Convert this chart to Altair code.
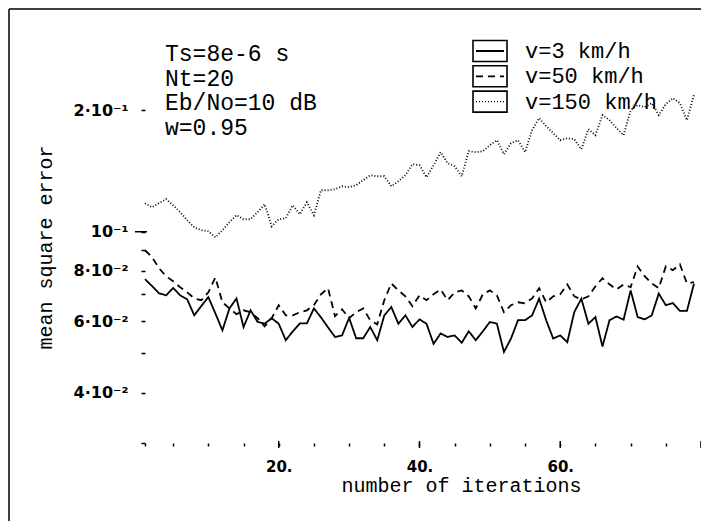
import altair as alt
import pandas as pd

# ---- data ----
iterations = list(range(1, 80))

mse_v3 = [0.0763, 0.0734, 0.0704, 0.0696, 0.0726, 0.0696, 0.0680, 0.0621, 0.0655, 0.0689,
          0.0628, 0.0570, 0.0646, 0.0684, 0.0581, 0.0639, 0.0598, 0.0592, 0.0611, 0.0592,
          0.0539, 0.0567, 0.0593, 0.0593, 0.0646, 0.0614, 0.0580, 0.0549, 0.0554, 0.0612,
          0.0545, 0.0545, 0.0581, 0.0539, 0.0621, 0.0651, 0.0592, 0.0621, 0.0581, 0.0607,
          0.0592, 0.0528, 0.0560, 0.0549, 0.0554, 0.0531, 0.0567, 0.0539, 0.0567, 0.0598,
          0.0592, 0.0504, 0.0544, 0.0604, 0.0604, 0.0621, 0.0683, 0.0604, 0.0544, 0.0554,
          0.0533, 0.0633, 0.0683, 0.0592, 0.0615, 0.0520, 0.0604, 0.0617, 0.0606, 0.0716,
          0.0615, 0.0607, 0.0621, 0.0703, 0.0658, 0.0666, 0.0637, 0.0637, 0.0744]

mse_v50 = [0.0900, 0.0865, 0.0812, 0.0776, 0.0754, 0.0729, 0.0708, 0.0684, 0.0677, 0.0708,
           0.0771, 0.0669, 0.0646, 0.0625, 0.0639, 0.0632, 0.0611, 0.0583, 0.0611, 0.0658,
           0.0621, 0.0621, 0.0632, 0.0639, 0.0658, 0.0700, 0.0725, 0.0618, 0.0643, 0.0611,
           0.0632, 0.0646, 0.0604, 0.0590, 0.0677, 0.0745, 0.0716, 0.0692, 0.0654, 0.0696,
           0.0677, 0.0700, 0.0720, 0.0677, 0.0708, 0.0716, 0.0692, 0.0646, 0.0700, 0.0716,
           0.0696, 0.0632, 0.0658, 0.0669, 0.0665, 0.0684, 0.0725, 0.0669, 0.0692, 0.0700,
           0.0741, 0.0692, 0.0680, 0.0692, 0.0733, 0.0767, 0.0741, 0.0720, 0.0741, 0.0729,
           0.0821, 0.0776, 0.0745, 0.0725, 0.0821, 0.0803, 0.0831, 0.0745, 0.0750]

mse_v150 = [0.1177, 0.1150, 0.1177, 0.1204, 0.1163, 0.1118, 0.1068, 0.1026, 0.1009, 0.1003,
            0.0969, 0.1009, 0.1056, 0.1099, 0.1074, 0.1074, 0.1118, 0.1170, 0.1032, 0.1074,
            0.1080, 0.1163, 0.1105, 0.1183, 0.1099, 0.1267, 0.1267, 0.1274, 0.1296, 0.1289,
            0.1304, 0.1342, 0.1380, 0.1372, 0.1372, 0.1296, 0.1334, 0.1380, 0.1470, 0.1461,
            0.1364, 0.1461, 0.1574, 0.1478, 0.1452, 0.1372, 0.1583, 0.1574, 0.1583, 0.1638,
            0.1685, 0.1556, 0.1657, 0.1685, 0.1574, 0.1784, 0.1911, 0.1826, 0.1754, 0.1685,
            0.1705, 0.1695, 0.1601, 0.1795, 0.1734, 0.1944, 0.1889, 0.1805, 0.1734, 0.2000,
            0.2058, 0.2035, 0.2082, 0.1944, 0.2070, 0.2142, 0.2082, 0.1889, 0.2179]

series_names = ["v=3 km/h", "v=50 km/h", "v=150 km/h"]
notes = ["Ts=8e-6 s", "Nt=20", "Eb/No=10 dB", "w=0.95"]

x_ticks = [1, 5, 10, 15, 20, 25, 30, 35, 40, 45, 50, 55, 60, 65, 70, 75, 80]
x_major = [20, 40, 60, 80]
x_tick_labels = {20: "20.", 40: "40.", 60: "60."}

y_ticks = [0.03, 0.04, 0.05, 0.06, 0.07, 0.08, 0.09, 0.1, 0.2]
y_tick_labels = {0.04: "4·10⁻²", 0.06: "6·10⁻²", 0.08: "8·10⁻²", 0.1: "10⁻¹", 0.2: "2·10⁻¹"}

# ---- styles ----
dashes = [[1, 0], [7, 5], [1, 2]]
widths = [1.8, 1.8, 1.3]
TITLE_FONT = "Liberation Mono"
LABEL_FONT = "DejaVu Sans"

df = pd.DataFrame({
    "iteration": iterations * 3,
    "mse": mse_v3 + mse_v50 + mse_v150,
    "series": [series_names[0]] * len(iterations)
              + [series_names[1]] * len(iterations)
              + [series_names[2]] * len(iterations),
})

x_expr = " : ".join(f"datum.value == {k} ? '{v}'" for k, v in x_tick_labels.items()) + " : ''"
y_expr = " : ".join(f"abs(datum.value - {k}) < 1e-9 ? '{v}'" for k, v in y_tick_labels.items()) + " : ''"

W, H = 556, 404

x_scale = alt.Scale(domain=[1, 80], nice=False, zero=False)
y_scale = alt.Scale(type="log", domain=[0.03, 0.3], nice=False)

x_axis = alt.Axis(values=x_ticks, labelExpr=x_expr, title="number of iterations",
                  domain=False, grid=False, tickSize=3, tickWidth=1.5,
                  tickColor="black", labelPadding=13,
                  labelFont=LABEL_FONT, labelFontSize=15, labelFontWeight="bold",
                  labelColor="black", labelFlush=False, labelOverlap=False,
                  titleFont=TITLE_FONT, titleFontSize=20, titleFontWeight="normal",
                  titleColor="black", titleX=316, titleY=48,
                  titleAlign="center", titleBaseline="alphabetic")
y_axis = alt.Axis(values=y_ticks, labelExpr=y_expr, title="mean square error",
                  domain=False, grid=False, tickSize=4, tickWidth=1.5,
                  tickColor="black", labelPadding=13,
                  labelFont=LABEL_FONT, labelFontSize=16, labelFontWeight="bold",
                  labelColor="black", labelOverlap=False,
                  titleFont=TITLE_FONT, titleFontSize=20, titleFontWeight="normal",
                  titleColor="black", titleAngle=270, titleX=-100, titleY=208,
                  titleAlign="center", titleBaseline="middle")

lines = alt.Chart(df).mark_line(color="black").encode(
    x=alt.X("iteration:Q", scale=x_scale, axis=x_axis),
    y=alt.Y("mse:Q", scale=y_scale, axis=y_axis),
    strokeDash=alt.StrokeDash("series:N", scale=alt.Scale(domain=series_names, range=dashes),
                              legend=None),
    strokeWidth=alt.StrokeWidth("series:N", scale=alt.Scale(domain=series_names, range=widths),
                                legend=None),
)

major_ticks = alt.Chart(pd.DataFrame({"iteration": x_major})).mark_rule(
    color="black", strokeWidth=1.5).encode(
    x=alt.X("iteration:Q", scale=x_scale, axis=x_axis),
    y=alt.value(H - 2), y2=alt.value(H + 5),
)

ten_tick = alt.Chart(pd.DataFrame({"mse": [0.1]})).mark_rule(
    color="black", strokeWidth=1.5).encode(
    y=alt.Y("mse:Q", scale=y_scale, axis=y_axis),
    x=alt.value(-10), x2=alt.value(2),
)

layers = [lines, major_ticks, ten_tick]

# annotation text block
for i, t in enumerate(notes):
    layers.append(
        alt.Chart(pd.DataFrame({"t": [t]})).mark_text(
            font=TITLE_FONT, fontSize=23, align="left", baseline="middle", color="black"
        ).encode(text="t:N", x=alt.value(20), y=alt.value(15 + 24.7 * i))
    )

# legend: boxed line samples + labels
for i, name in enumerate(series_names):
    cy = 12 + 25.3 * i
    layers.append(
        alt.Chart(pd.DataFrame({"s": [name]})).mark_rect(
            fill="white", stroke="black", strokeWidth=1.6
        ).encode(x=alt.value(328), x2=alt.value(362), y=alt.value(cy - 10.5), y2=alt.value(cy + 10.5))
    )
    layers.append(
        alt.Chart(pd.DataFrame({"s": [name]})).mark_rule(
            color="black", strokeWidth=widths[i], strokeDash=dashes[i]
        ).encode(x=alt.value(331), x2=alt.value(359), y=alt.value(cy))
    )
    layers.append(
        alt.Chart(pd.DataFrame({"s": [name]})).mark_text(
            font=TITLE_FONT, fontSize=22, align="left", baseline="middle", color="black"
        ).encode(text="s:N", x=alt.value(380), y=alt.value(cy))
    )

# scanned page frame (left and top edges)
layers.append(
    alt.Chart(pd.DataFrame({"f": [0]})).mark_rule(color="black", strokeWidth=1.5).encode(
        x=alt.value(-136), y=alt.value(-30), y2=alt.value(H + 78))
)
layers.append(
    alt.Chart(pd.DataFrame({"f": [0]})).mark_rule(color="black", strokeWidth=1.5).encode(
        x=alt.value(-136), x2=alt.value(W), y=alt.value(-30))
)

chart = alt.layer(*layers).properties(
    width=W, height=H,
    padding={"left": 137, "top": 31, "right": 0, "bottom": 80},
    autosize=alt.AutoSizeParams(type="none"),
    background="white",
).configure_view(stroke=None)

chart.save("out.html", embed_options={"renderer": "svg", "actions": False})
